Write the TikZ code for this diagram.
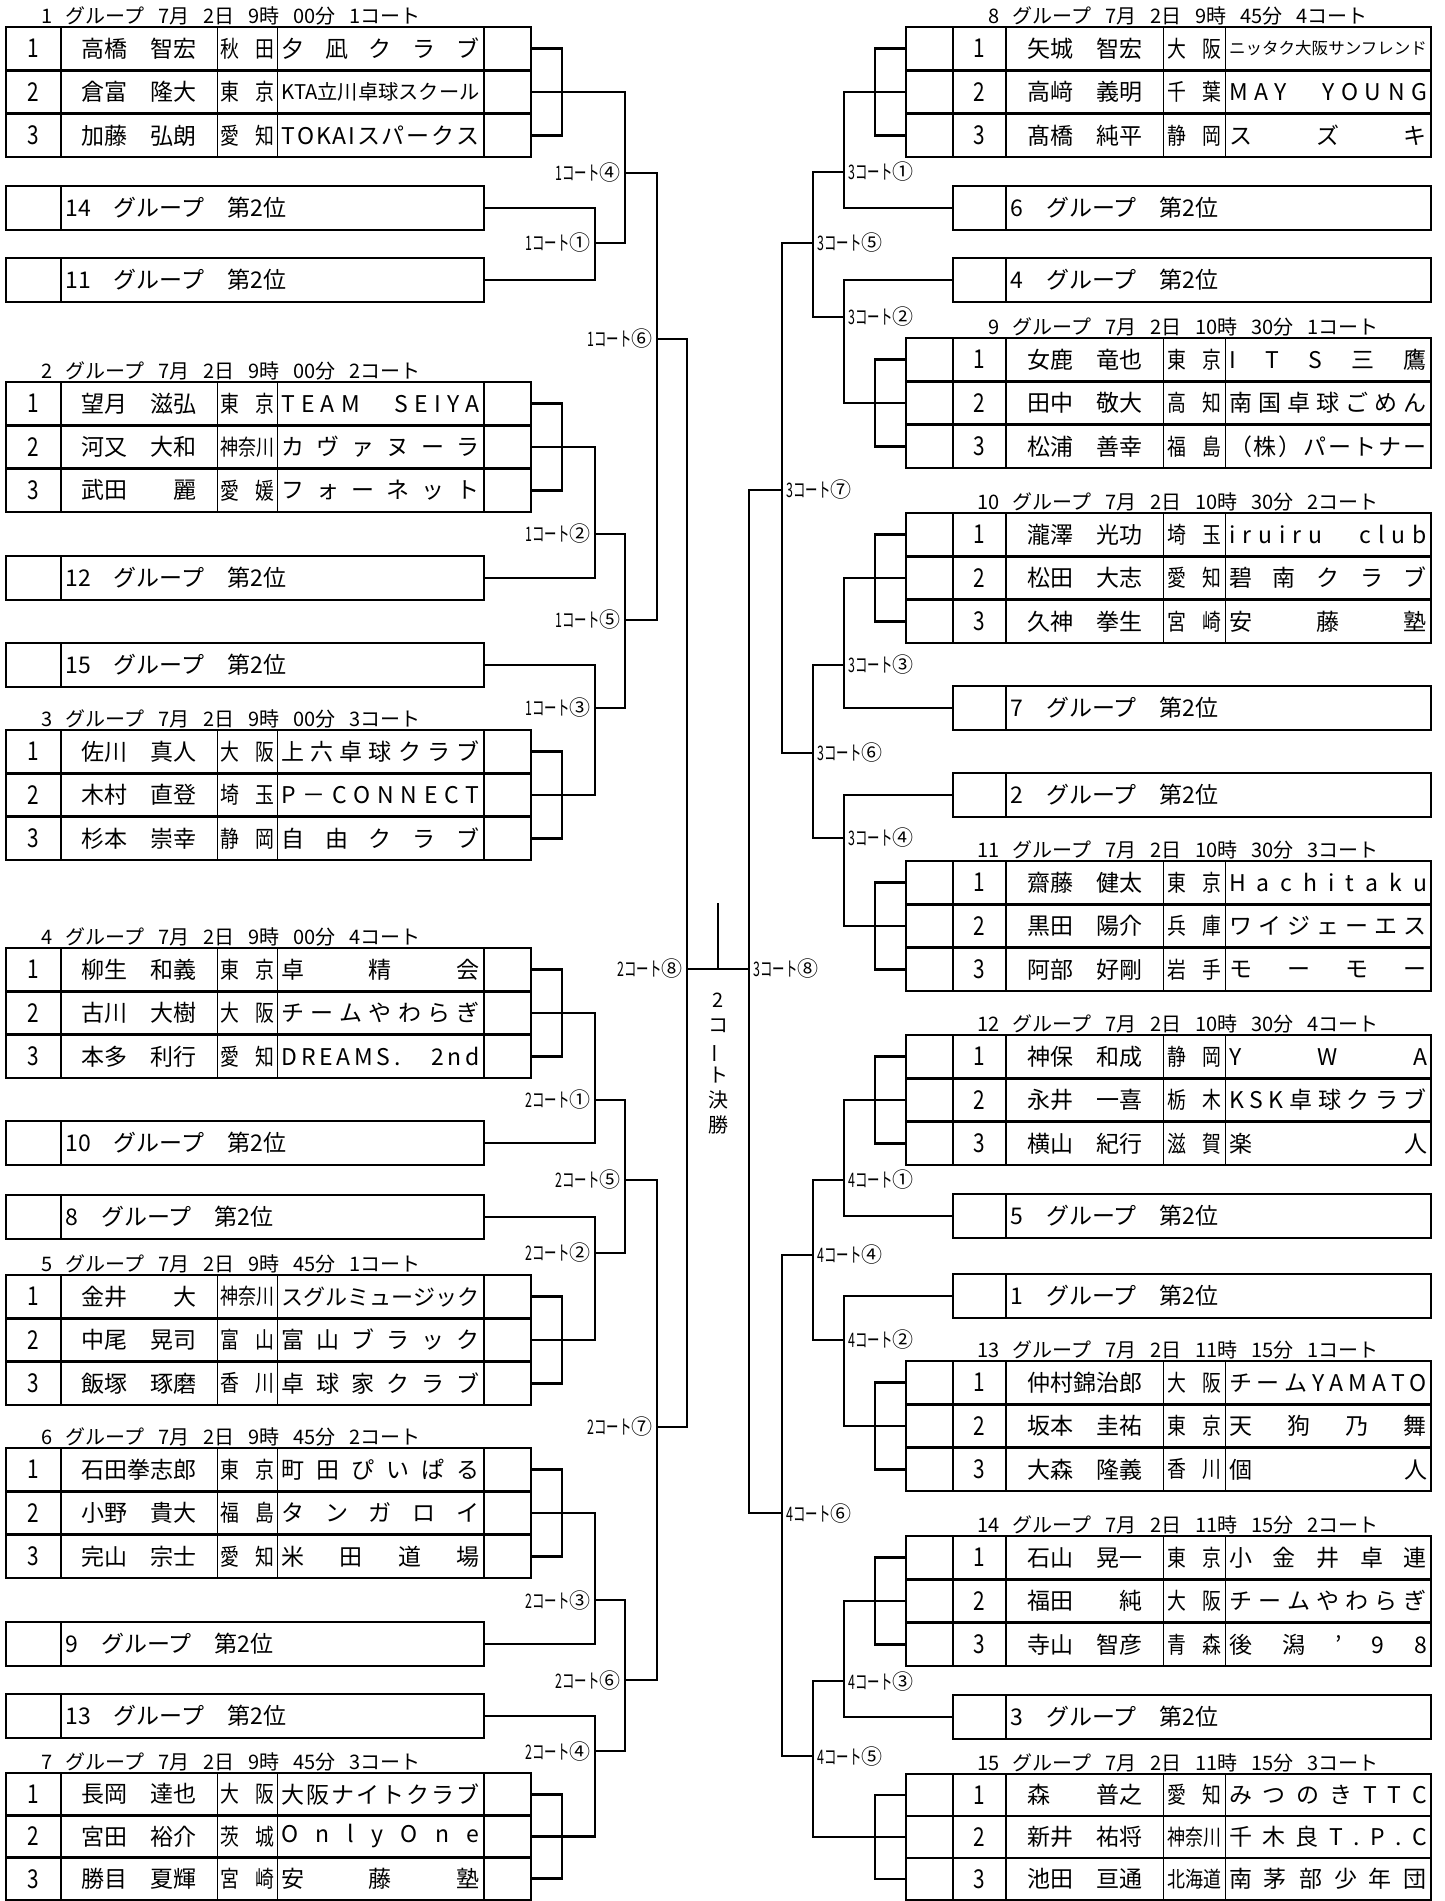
\documentclass[tikz,border=0pt]{standalone}
\usepackage{fontspec}
\usepackage{graphicx}
\setmainfont{Noto Sans CJK JP}
\newfontfamily\condL[FakeStretch=0.62]{Noto Sans CJK JP}
\newfontfamily\condP[FakeStretch=0.82]{Noto Sans CJK JP}
\newfontfamily\condN[FakeStretch=0.8]{Noto Sans CJK JP}
\newlength\pxu \setlength\pxu{0.5pt}
\newcommand\tabf{\fontsize{11.5pt}{13pt}\selectfont}
\newcommand\numf{\condN\fontsize{13pt}{14pt}\selectfont}
\newcommand\preff{\condP\fontsize{11.5pt}{13pt}\selectfont}
\newcommand\ttlf{\fontsize{10pt}{12pt}\selectfont}
\newcommand\lblf{\condL\fontsize{10pt}{11pt}\selectfont}
\newcommand\vtf{\fontsize{10pt}{12.5pt}\selectfont}
\newcommand\lab[2]{#1コート{\normalfont\fontsize{10.5pt}{11pt}\selectfont #2}}
\newsavebox\distbox
\newlength\distw
\def\distfirst#1{#1\distloop}
\def\distloop#1{\ifx#1\relax\else\hfill#1\expandafter\distloop\fi}
\newcommand\distfit[2]{\setlength\distw{#1}\sbox\distbox{#2}\ifdim\wd\distbox>\distw\resizebox{\distw}{!}{\usebox\distbox}\else\makebox[\distw]{\distfirst#2\relax}\fi}
\tikzset{
  thk/.style={line width=1.4pt,line cap=rect},
  thn/.style={line width=0.5pt},
  txt/.style={inner sep=0pt,font=\tabf},
  ttl/.style={inner sep=0pt,anchor=base west,font=\ttlf},
  lblL/.style={inner sep=0pt,anchor=east,font=\lblf},
  lblR/.style={inner sep=0pt,anchor=west,font=\lblf}
}
% left table
\newcommand\Ltable[3]{%
  \pgfmathsetmacro\ra{#2+#3/6}\pgfmathsetmacro\rb{#2+#3/2}\pgfmathsetmacro\rc{#2+5*#3/6}%
  \pgfmathsetmacro\la{#2+#3/3}\pgfmathsetmacro\lb{#2+2*#3/3}\pgfmathsetmacro\bt{#2+#3}%
  \draw[thn] (217,#2) -- (217,\bt) (277,#2) -- (277,\bt);
  \draw[thk] (6,#2) rectangle (531,\bt) (6,\la) -- (531,\la) (6,\lb) -- (531,\lb)
             (61,#2) -- (61,\bt) (484,#2) -- (484,\bt);}
\newcommand\Lrow[6]{%
  \node[txt,font=\numf] (g#1n#3) at (33.5,#2) {#3};
  \node[txt] (g#1m#3) at (139,#2) {#4};
  \node[txt,font=\preff] (g#1p#3) at (247,#2) {\distfit{54\pxu}{#5}};
  \node[txt] (g#1c#3) at (380.5,#2) {\distfit{198\pxu}{#6}};
  \coordinate (g#1o#3) at (531,#2);}
% right table
\newcommand\Rtable[3]{%
  \pgfmathsetmacro\ra{#2+#3/6}\pgfmathsetmacro\rb{#2+#3/2}\pgfmathsetmacro\rc{#2+5*#3/6}%
  \pgfmathsetmacro\la{#2+#3/3}\pgfmathsetmacro\lb{#2+2*#3/3}\pgfmathsetmacro\bt{#2+#3}%
  \draw[thn] (1163,#2) -- (1163,\bt) (1225,#2) -- (1225,\bt);
  \draw[thk] (906,#2) rectangle (1431,\bt) (906,\la) -- (1431,\la) (906,\lb) -- (1431,\lb)
             (953,#2) -- (953,\bt) (1006,#2) -- (1006,\bt);}
\newcommand\Rrow[6]{%
  \node[txt,font=\numf] (g#1n#3) at (979.5,#2) {#3};
  \node[txt] (g#1m#3) at (1084.5,#2) {#4};
  \node[txt,font=\preff] (g#1p#3) at (1194,#2) {\distfit{54\pxu}{#5}};
  \node[txt] (g#1c#3) at (1328,#2) {\distfit{198\pxu}{#6}};
  \coordinate (g#1o#3) at (906,#2);}
\newcommand\Gtitle[6]{%
  \node[ttl] (t#3) at (#1,#2) {\llap{#3\hspace{13\pxu}}グループ\hspace{14\pxu}7月\hspace{14\pxu}2日\hspace{14\pxu}#4時\hspace{14\pxu}#5分\hspace{14\pxu}#6コート};}
\newcommand\Lsec[2]{%
  \draw[thk] (6,#2-22) rectangle (484,#2+22) (61,#2-22) -- (61,#2+22);
  \node[txt,anchor=west] (sL#1) at (65,#2) {#1　グループ　第2位};
  \coordinate (sLo#1) at (484,#2);}
\newcommand\Rsec[2]{%
  \draw[thk] (953,#2-22) rectangle (1431,#2+22) (1006,#2-22) -- (1006,#2+22);
  \node[txt,anchor=west] (sR#1) at (1010,#2) {#1　グループ　第2位};
  \coordinate (sRo#1) at (953,#2);}
\begin{document}
\begin{tikzpicture}[x=0.5pt,y=-0.5pt]
\useasboundingbox (0,0) rectangle (1445,1901);
% ================= LEFT =================
\Ltable{1}{27}{130}
\Gtitle{65}{23}{1}{9}{00}{1}
\Lrow{1}{\ra}{1}{高橋　智宏}{秋田}{夕凪クラブ}
\Lrow{1}{\rb}{2}{倉富　隆大}{東京}{KTA立川卓球スクール}
\Lrow{1}{\rc}{3}{加藤　弘朗}{愛知}{TOKAIスパークス}
\Lsec{14}{208}
\Lsec{11}{280}
\Ltable{2}{382}{130}
\Gtitle{65}{378}{2}{9}{00}{2}
\Lrow{2}{\ra}{1}{望月　滋弘}{東京}{TEAM　SEIYA}
\Lrow{2}{\rb}{2}{河又　大和}{神奈川}{カヴァヌーラ}
\Lrow{2}{\rc}{3}{武田　　麗}{愛媛}{フォーネット}
\Lsec{12}{578}
\Lsec{15}{665}
\Ltable{3}{730}{130}
\Gtitle{65}{726}{3}{9}{00}{3}
\Lrow{3}{\ra}{1}{佐川　真人}{大阪}{上六卓球クラブ}
\Lrow{3}{\rb}{2}{木村　直登}{埼玉}{P－CONNECT}
\Lrow{3}{\rc}{3}{杉本　崇幸}{静岡}{自由クラブ}
\Ltable{4}{948}{130}
\Gtitle{65}{944}{4}{9}{00}{4}
\Lrow{4}{\ra}{1}{柳生　和義}{東京}{卓精会}
\Lrow{4}{\rb}{2}{古川　大樹}{大阪}{チームやわらぎ}
\Lrow{4}{\rc}{3}{本多　利行}{愛知}{DREAMS.　2nd}
\Lsec{10}{1143}
\Lsec{8}{1217}
\Ltable{5}{1275}{130}
\Gtitle{65}{1271}{5}{9}{45}{1}
\Lrow{5}{\ra}{1}{金井　　大}{神奈川}{スグルミュージック}
\Lrow{5}{\rb}{2}{中尾　晃司}{富山}{富山ブラック}
\Lrow{5}{\rc}{3}{飯塚　琢磨}{香川}{卓球家クラブ}
\Ltable{6}{1448}{130}
\Gtitle{65}{1444}{6}{9}{45}{2}
\Lrow{6}{\ra}{1}{石田拳志郎}{東京}{町田ぴいぱる}
\Lrow{6}{\rb}{2}{小野　貴大}{福島}{タンガロイ}
\Lrow{6}{\rc}{3}{完山　宗士}{愛知}{米田道場}
\Lsec{9}{1644}
\Lsec{13}{1716}
\Ltable{7}{1773}{127}
\Gtitle{65}{1769}{7}{9}{45}{3}
\Lrow{7}{\ra}{1}{長岡　達也}{大阪}{大阪ナイトクラブ}
\Lrow{7}{\rb}{2}{宮田　裕介}{茨城}{OnlyOne}
\Lrow{7}{\rc}{3}{勝目　夏輝}{宮崎}{安藤塾}
% ================= RIGHT =================
\Rtable{8}{27}{130}
\Gtitle{1012}{23}{8}{9}{45}{4}
\Rrow{8}{\ra}{1}{矢城　智宏}{大阪}{ニッタク大阪サンフレンド}
\Rrow{8}{\rb}{2}{高﨑　義明}{千葉}{MAY　YOUNG}
\Rrow{8}{\rc}{3}{髙橋　純平}{静岡}{スズキ}
\Rsec{6}{208}
\Rsec{4}{280}
\Rtable{9}{338}{130}
\Gtitle{1012}{334}{9}{10}{30}{1}
\Rrow{9}{\ra}{1}{女鹿　竜也}{東京}{ITS三鷹}
\Rrow{9}{\rb}{2}{田中　敬大}{高知}{南国卓球ごめん}
\Rrow{9}{\rc}{3}{松浦　善幸}{福島}{（株）パートナー}
\Rtable{10}{513}{130}
\Gtitle{1012}{509}{10}{10}{30}{2}
\Rrow{10}{\ra}{1}{瀧澤　光功}{埼玉}{iruiru　club}
\Rrow{10}{\rb}{2}{松田　大志}{愛知}{碧南クラブ}
\Rrow{10}{\rc}{3}{久神　拳生}{宮崎}{安藤塾}
\Rsec{7}{708}
\Rsec{2}{795}
\Rtable{11}{861}{130}
\Gtitle{1012}{857}{11}{10}{30}{3}
\Rrow{11}{\ra}{1}{齋藤　健太}{東京}{Hachitaku}
\Rrow{11}{\rb}{2}{黒田　陽介}{兵庫}{ワイジェーエス}
\Rrow{11}{\rc}{3}{阿部　好剛}{岩手}{モーモー}
\Rtable{12}{1035}{130}
\Gtitle{1012}{1031}{12}{10}{30}{4}
\Rrow{12}{\ra}{1}{神保　和成}{静岡}{YWA}
\Rrow{12}{\rb}{2}{永井　一喜}{栃木}{KSK卓球クラブ}
\Rrow{12}{\rc}{3}{横山　紀行}{滋賀}{楽人}
\Rsec{5}{1216}
\Rsec{1}{1296}
\Rtable{13}{1361}{130}
\Gtitle{1012}{1357}{13}{11}{15}{1}
\Rrow{13}{\ra}{1}{仲村錦治郎}{大阪}{チームYAMATO}
\Rrow{13}{\rb}{2}{坂本　圭祐}{東京}{天狗乃舞}
\Rrow{13}{\rc}{3}{大森　隆義}{香川}{個人}
\Rtable{14}{1536}{130}
\Gtitle{1012}{1532}{14}{11}{15}{2}
\Rrow{14}{\ra}{1}{石山　晃一}{東京}{小金井卓連}
\Rrow{14}{\rb}{2}{福田　　純}{大阪}{チームやわらぎ}
\Rrow{14}{\rc}{3}{寺山　智彦}{青森}{後潟’98}
\Rsec{3}{1717}
\Rtable{15}{1774}{126}
\Gtitle{1012}{1770}{15}{11}{15}{3}
\Rrow{15}{\ra}{1}{森　　普之}{愛知}{みつのきTTC}
\Rrow{15}{\rb}{2}{新井　祐将}{神奈川}{千木良T.P.C}
\Rrow{15}{\rc}{3}{池田　亘通}{北海道}{南茅部少年団}
% ================= LEFT BRACKET =================
\draw[thk] (g1o1) -- ++(31,0) |- (g1o3);
\draw[thk] (g2o1) -- ++(31,0) |- (g2o3);
\draw[thk] (g3o1) -- ++(31,0) |- (g3o3);
\draw[thk] (g4o1) -- ++(31,0) |- (g4o3);
\draw[thk] (g5o1) -- ++(31,0) |- (g5o3);
\draw[thk] (g6o1) -- ++(31,0) |- (g6o3);
\draw[thk] (g7o1) -- ++(31,0) |- (g7o3);
\draw[thk] (g1o2) -- ++(94,0);
\foreach \g in {2,...,7} {\draw[thk] (g\g o2) -- ++(64,0);}
\foreach \s in {14,11,12,15,10,8,9,13} {\draw[thk] (sLo\s) -- ++(111,0);}
% 595 verticals
\draw[thk] (595,208) -- (595,280) (595,243) -- (625,243);
\draw[thk] (595,447) -- (595,578) (595,534) -- (625,534);
\draw[thk] (595,665) -- (595,795) (595,708) -- (625,708);
\draw[thk] (595,1013) -- (595,1143) (595,1100) -- (625,1100);
\draw[thk] (595,1217) -- (595,1340) (595,1253) -- (625,1253);
\draw[thk] (595,1513) -- (595,1644) (595,1600) -- (625,1600);
\draw[thk] (595,1716) -- (595,1836.5) (595,1751) -- (625,1751);
% 625 verticals
\draw[thk] (625,92) -- (625,243) (625,173) -- (657,173);
\draw[thk] (625,534) -- (625,708) (625,620) -- (657,620);
\draw[thk] (625,1100) -- (625,1253) (625,1180) -- (657,1180);
\draw[thk] (625,1600) -- (625,1751) (625,1680) -- (657,1680);
% 657 verticals
\draw[thk] (657,173) -- (657,620) (657,339) -- (687,339);
\draw[thk] (657,1180) -- (657,1680) (657,1427) -- (687,1427);
% final
\draw[thk] (687,339) -- (687,1427);
\draw[thk] (687,969) -- (749,969);
\draw[thk] (718,904) -- (718,969);
\draw[thk] (749,490) -- (749,1513);
% ================= RIGHT BRACKET =================
\foreach \g in {8,...,15} {\draw[thk] (g\g o1) -- ++(-31,0) |- (g\g o3);}
\foreach \g in {8,...,14} {\draw[thk] (g\g o2) -- ++(-62,0);}
\draw[thk] (g15o2) -- ++(-93,0);
\foreach \s in {6,4,7,2,5,1,3} {\draw[thk] (sRo\s) -- ++(-109,0);}
% 844 verticals
\draw[thk] (844,92) -- (844,208) (844,172) -- (813,172);
\draw[thk] (844,280) -- (844,403) (844,317) -- (813,317);
\draw[thk] (844,578) -- (844,708) (844,665) -- (813,665);
\draw[thk] (844,795) -- (844,926) (844,838) -- (813,838);
\draw[thk] (844,1100) -- (844,1216) (844,1180) -- (813,1180);
\draw[thk] (844,1296) -- (844,1426) (844,1340) -- (813,1340);
\draw[thk] (844,1601) -- (844,1717) (844,1681) -- (813,1681);
% 813 verticals
\draw[thk] (813,172) -- (813,317) (813,243) -- (782,243);
\draw[thk] (813,665) -- (813,838) (813,753) -- (782,753);
\draw[thk] (813,1180) -- (813,1340) (813,1255) -- (782,1255);
\draw[thk] (813,1681) -- (813,1837) (813,1756) -- (782,1756);
% 782 verticals
\draw[thk] (782,243) -- (782,753) (782,490) -- (749,490);
\draw[thk] (782,1255) -- (782,1756) (782,1513) -- (749,1513);
% ================= LABELS =================
\node[lblL] (k11) at (591,243) {\lab{1}{①}};
\node[lblL] (k12) at (591,534) {\lab{1}{②}};
\node[lblL] (k13) at (591,708) {\lab{1}{③}};
\node[lblL] (k14) at (621,173) {\lab{1}{④}};
\node[lblL] (k15) at (621,620) {\lab{1}{⑤}};
\node[lblL] (k16) at (653,339) {\lab{1}{⑥}};
\node[lblL] (k21) at (591,1100) {\lab{2}{①}};
\node[lblL] (k22) at (591,1253) {\lab{2}{②}};
\node[lblL] (k23) at (591,1600) {\lab{2}{③}};
\node[lblL] (k24) at (591,1751) {\lab{2}{④}};
\node[lblL] (k25) at (621,1180) {\lab{2}{⑤}};
\node[lblL] (k26) at (621,1680) {\lab{2}{⑥}};
\node[lblL] (k27) at (653,1427) {\lab{2}{⑦}};
\node[lblL] (k28) at (683,969) {\lab{2}{⑧}};
\node[lblR] (k31) at (848,172) {\lab{3}{①}};
\node[lblR] (k32) at (848,317) {\lab{3}{②}};
\node[lblR] (k33) at (848,665) {\lab{3}{③}};
\node[lblR] (k34) at (848,838) {\lab{3}{④}};
\node[lblR] (k35) at (817,243) {\lab{3}{⑤}};
\node[lblR] (k36) at (817,753) {\lab{3}{⑥}};
\node[lblR] (k37) at (786,490) {\lab{3}{⑦}};
\node[lblR] (k38) at (753,969) {\lab{3}{⑧}};
\node[lblR] (k41) at (848,1180) {\lab{4}{①}};
\node[lblR] (k42) at (848,1340) {\lab{4}{②}};
\node[lblR] (k43) at (848,1681) {\lab{4}{③}};
\node[lblR] (k44) at (817,1255) {\lab{4}{④}};
\node[lblR] (k45) at (817,1756) {\lab{4}{⑤}};
\node[lblR] (k46) at (786,1513) {\lab{4}{⑥}};
\node[inner sep=0pt,font=\vtf,align=center] (final) at (718,1064) {2\\コ\\\rotatebox[origin=c]{90}{ー}\\ト\\決\\勝};
\end{tikzpicture}
\end{document}
